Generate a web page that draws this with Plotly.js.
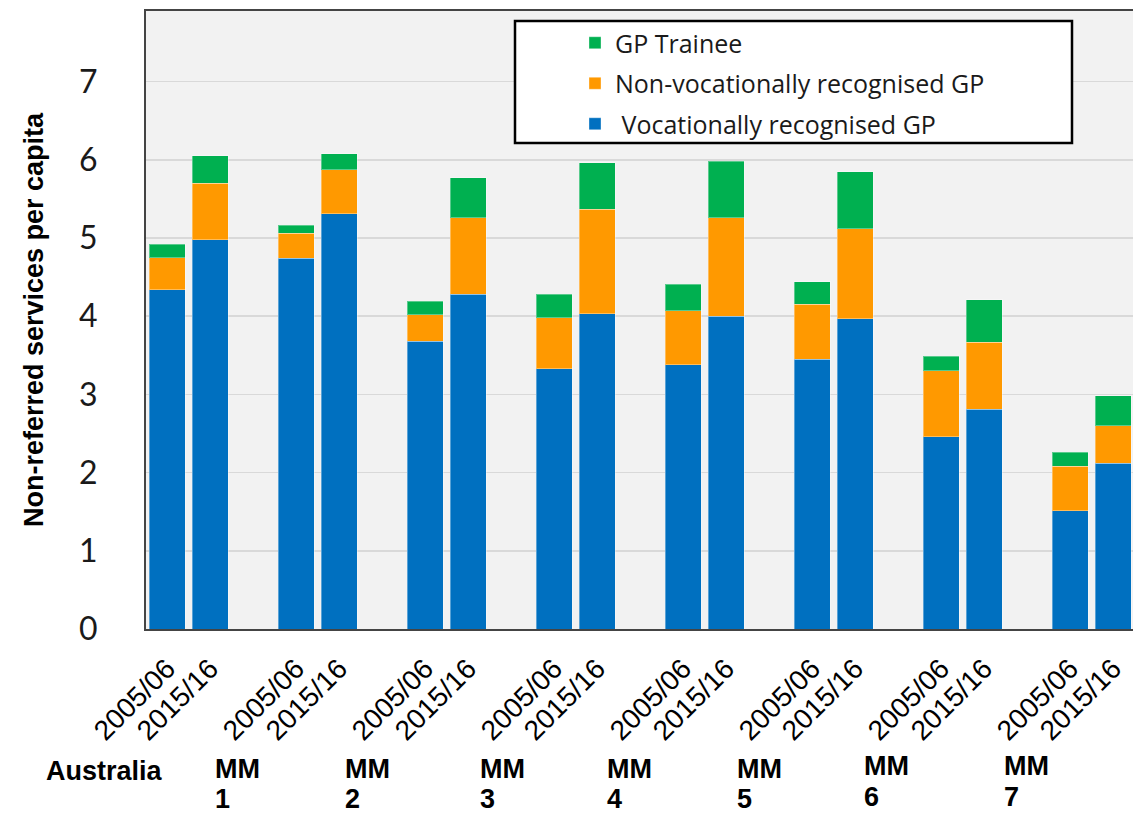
<!DOCTYPE html>
<html><head><meta charset="utf-8">
<script src="https://cdn.plot.ly/plotly-3.0.1.min.js"></script>
<style>html,body{margin:0;padding:0;background:#fff}#chart{width:1133px;height:813px}</style>
</head><body><div id="chart"></div>
<script>
// ---- data ----
const groups = ['Australia', 'MM 1', 'MM 2', 'MM 3', 'MM 4', 'MM 5', 'MM 6', 'MM 7'];
const periods = ['2005/06', '2015/16'];
const vocational    = [4.34, 4.98, 4.74, 5.31, 3.68, 4.28, 3.33, 4.03, 3.38, 4.00, 3.45, 3.97, 2.46, 2.81, 1.51, 2.12];
const nonVocational = [0.41, 0.72, 0.32, 0.56, 0.34, 0.98, 0.65, 1.34, 0.69, 1.26, 0.70, 1.15, 0.84, 0.86, 0.57, 0.48];
const trainee       = [0.17, 0.35, 0.10, 0.21, 0.17, 0.51, 0.30, 0.59, 0.34, 0.72, 0.29, 0.73, 0.19, 0.54, 0.18, 0.38];
const seriesNames = ['\u00a0Vocationally recognised GP', 'Non-vocationally recognised GP', 'GP Trainee'];
const yTickVals = [0, 1, 2, 3, 4, 5, 6, 7];
const yTitle = 'Non-referred services per capita';

// ---- layout helpers ----
const W = 1133, H = 813, ML = 146, MR = 0, MT = 11, MB = 184;
const pw = W - ML - MR, ph = H - MT - MB;
const px2x = px => (px - ML) / pw;
const py2y = py => (H - MB - py) / ph;

const xs = [], xt = [];
groups.forEach((g, gi) => periods.forEach((p, pi) => { xs.push(gi * 3 + pi); xt.push(p); }));

const colors = ['#0070C0', '#FF9900', '#00B050'];
const vals = [vocational, nonVocational, trainee];
const ranks = [3, 2, 1];
const traces = vals.map((v, i) => ({
  type: 'bar', x: xs, y: v, name: seriesNames[i], legendgroup: 'g' + i, legendrank: ranks[i],
  width: 0.84,
  marker: { color: colors[i], line: { color: 'rgba(255,255,255,0.35)', width: 1 } },
  hoverinfo: 'y+name'
}));

// group label positions (pixels in the 1133x813 frame): left x, top of first line, top of second line
const labelPos = [
  { px: 104, top: 754, center: true },
  { px: 213, top: 752, top2: 782 }, { px: 343, top: 752, top2: 782 }, { px: 478, top: 752, top2: 782 },
  { px: 605, top: 752, top2: 782 }, { px: 735, top: 752, top2: 782 }, { px: 862, top: 749, top2: 780 },
  { px: 1002, top: 749, top2: 780 }
];
const annFont = { family: 'Liberation Sans, Arial, sans-serif', size: 27, color: '#000' };
const annotations = [];
groups.forEach((g, i) => {
  const p = labelPos[i];
  const parts = g.split(' ');
  annotations.push({
    xref: 'paper', yref: 'paper', x: px2x(p.px), y: py2y(p.top),
    xanchor: p.center ? 'center' : 'left', yanchor: 'top',
    text: '<b>' + parts[0] + '</b>', showarrow: false, font: annFont
  });
  if (parts[1]) {
    annotations.push({
      xref: 'paper', yref: 'paper', x: px2x(p.px), y: py2y(p.top2),
      xanchor: 'left', yanchor: 'top',
      text: '<b>' + parts[1] + '</b>', showarrow: false, font: annFont
    });
  }
});

const layout = {
  width: W, height: H,
  margin: { l: ML, r: MR, t: MT, b: MB, pad: 0 },
  paper_bgcolor: '#ffffff', plot_bgcolor: '#f2f2f2',
  barmode: 'stack', bargap: 0,
  showlegend: true,
  legend: {
    x: px2x(575), y: py2y(20), xanchor: 'left', yanchor: 'top',
    bgcolor: 'rgba(0,0,0,0)', borderwidth: 0,
    traceorder: 'grouped', tracegroupgap: 5,
    font: { family: 'Open Sans, sans-serif', size: 25, color: '#1a1a1a' }
  },
  xaxis: {
    range: [-0.49, 22.46], tickmode: 'array', tickvals: xs, ticktext: xt,
    tickangle: -45, showgrid: false, zeroline: false,
    showline: true, linecolor: '#444', linewidth: 2, mirror: true,
    ticks: '', ticklabelstandoff: 10, fixedrange: true,
    tickfont: { family: 'Liberation Sans, Arial, sans-serif', size: 28, color: '#000' }
  },
  yaxis: {
    range: [0, ph / 78.2], tickmode: 'array', tickvals: yTickVals,
    showgrid: true, gridcolor: '#d9d9d9', gridwidth: 1.5, zeroline: false,
    showline: true, linecolor: '#444', linewidth: 2,
    ticks: '', ticklabelstandoff: 40, fixedrange: true,
    tickfont: { family: 'Lato, Open Sans, sans-serif', size: 32, color: '#1a1a1a' },
    title: { text: '<b>' + yTitle + '</b>', standoff: 28,
      font: { family: 'Liberation Sans, Arial, sans-serif', size: 27, color: '#000' } }
  },
  shapes: [{
    type: 'rect', xref: 'paper', yref: 'paper', layer: 'above',
    x0: px2x(515), x1: px2x(1072), y0: py2y(143), y1: py2y(21),
    fillcolor: '#ffffff', line: { color: '#000', width: 2.5 }
  }],
  annotations: annotations
};

Plotly.newPlot('chart', traces, layout, { displayModeBar: false, staticPlot: true });
</script></body></html>
